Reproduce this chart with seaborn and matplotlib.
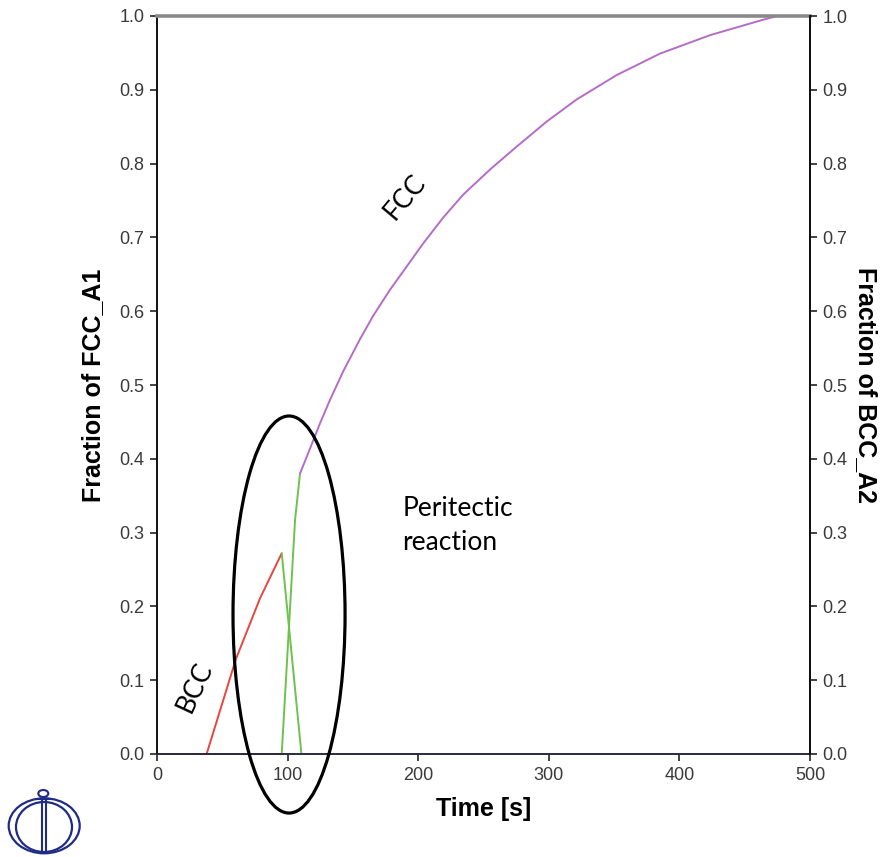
import numpy as np
import pandas as pd
import matplotlib
matplotlib.use("Agg")
import matplotlib.pyplot as plt
from matplotlib.patches import Ellipse
import seaborn as sns

# ---------------- data ----------------
bcc_time_red = [0, 38.0, 60.5, 78.9, 95.5]
bcc_frac_red = [0, 0, 0.129, 0.211, 0.272]
bcc_time_green = [95.5, 110.6]
bcc_frac_green = [0.272, 0.0]

fcc_time_green = [95.5, 105.7, 109.5]
fcc_frac_green = [0.0, 0.317, 0.38]
fcc_time = [109.5, 117.2, 124.8, 132.5, 142.7, 155.4, 165.6, 178.4, 203.9,
            219.2, 234.5, 255.0, 275.4, 298.4, 321.4, 352.0, 385.1, 423.4,
            464.2, 475.0, 500.0]
fcc_frac = [0.38, 0.414, 0.448, 0.480, 0.519, 0.562, 0.594, 0.629, 0.692,
            0.727, 0.758, 0.792, 0.823, 0.857, 0.887, 0.920, 0.949, 0.974,
            0.995, 1.0, 1.0]

x_ticks = [0, 100, 200, 300, 400, 500]
y_ticks = [0.0, 0.1, 0.2, 0.3, 0.4, 0.5, 0.6, 0.7, 0.8, 0.9, 1.0]

RED = "#e8453f"
GREEN = "#6cc24a"
PURPLE = "#b46cc8"

sns.set_style("ticks")
plt.rcParams["font.family"] = ["Liberation Sans", "DejaVu Sans"]
plt.rcParams["text.color"] = "black"
plt.rcParams["axes.labelcolor"] = "black"

W, H = 886, 857
fig = plt.figure(figsize=(W / 100, H / 100), dpi=100)
L, R, B, T = 157, 810, 754, 16
ax = fig.add_axes([L / W, (H - B) / H, (R - L) / W, (B - T) / H])

def seg(t, f, c):
    df = pd.DataFrame({"t": t, "f": f})
    sns.lineplot(data=df, x="t", y="f", color=c, lw=1.4, ax=ax,
                 estimator=None, sort=False, clip_on=False)

seg([0, 95.5], [0, 0], RED)
seg(bcc_time_red, bcc_frac_red, RED)
seg(bcc_time_green, bcc_frac_green, GREEN)
seg(fcc_time_green, fcc_frac_green, GREEN)
seg(fcc_time, fcc_frac, PURPLE)

LAB = dict(fontsize=18, fontweight="bold", family=["Liberation Sans", "DejaVu Sans"], color="black")

ax.set_xlim(0, 500)
ax.set_ylim(0, 1.0)
ax.set_xticks(x_ticks)
ax.set_xticklabels([str(v) for v in x_ticks], family=["Liberation Sans"])
ax.set_yticks(y_ticks)
ax.set_yticklabels([f"{v:.1f}" for v in y_ticks], family=["Liberation Sans"])
ax.tick_params(axis="both", direction="out", length=5, width=1.2,
               labelsize=13, labelcolor="#3a3a3a", color="#222222", pad=4)
ax.set_xlabel("Time [s]", labelpad=10, **LAB)
ax.set_ylabel("Fraction of FCC_A1", labelpad=10, **LAB)

for s in ["left", "right", "bottom"]:
    ax.spines[s].set_color("#111111")
    ax.spines[s].set_linewidth(1.4)
ax.spines["bottom"].set_color("#2a2a40")
ax.spines["top"].set_visible(True)
ax.spines["top"].set_color("#8a8a8a")
ax.spines["top"].set_linewidth(2.6)

ax2 = ax.twinx()
ax2.set_ylim(0, 1.0)
ax2.set_yticks(y_ticks)
ax2.set_yticklabels([f"{v:.1f}" for v in y_ticks], family=["Liberation Sans"])
ax2.tick_params(axis="y", direction="out", length=5, width=1.2,
                labelsize=13, labelcolor="#3a3a3a", color="#222222", pad=4)
ax2.set_ylabel("Fraction of BCC_A2", rotation=-90, labelpad=22, **LAB)
for s in ["left", "bottom", "top"]:
    ax2.spines[s].set_visible(False)
ax2.spines["right"].set_color("#111111")
ax2.spines["right"].set_linewidth(1.4)

# annotations
ell = Ellipse((101.1, 0.189), 85.8, 0.538, fill=False, ec="black", lw=2.3,
              clip_on=False, zorder=5)
ax.add_patch(ell)
ANN = dict(fontsize=19, family=["Lato", "DejaVu Sans"], color="black")
ax.text(188, 0.31, "Peritectic\nreaction", ha="left", va="center",
        linespacing=1.45, **ANN)
ax.text(190, 0.755, "FCC", rotation=50, ha="center", va="center", **ANN)
ax.text(29, 0.09, "BCC", rotation=65, ha="center", va="center", **ANN)

# logo
lax = fig.add_axes([0, 0, 90 / W, 72 / H])
lax.set_xlim(0, 90)
lax.set_ylim(0, 72)
lax.axis("off")
NAVY = "#1f2b85"
lax.add_patch(Ellipse((44.2, 31.2), 71, 55, fill=False, ec=NAVY, lw=1.6))
lax.add_patch(Ellipse((44.0, 30.0), 56, 50, fill=False, ec=NAVY, lw=1.6))
lax.add_patch(Ellipse((43.3, 63.5), 10, 7, fill=False, ec=NAVY, lw=1.5))
lax.plot([41.5, 41.5], [4, 58], color=NAVY, lw=1.5)
lax.plot([45.5, 45.5], [4, 58], color=NAVY, lw=1.5)
lax.plot([37, 50], [58, 58], color=NAVY, lw=1.5)

fig.savefig("out.png", dpi=100)
